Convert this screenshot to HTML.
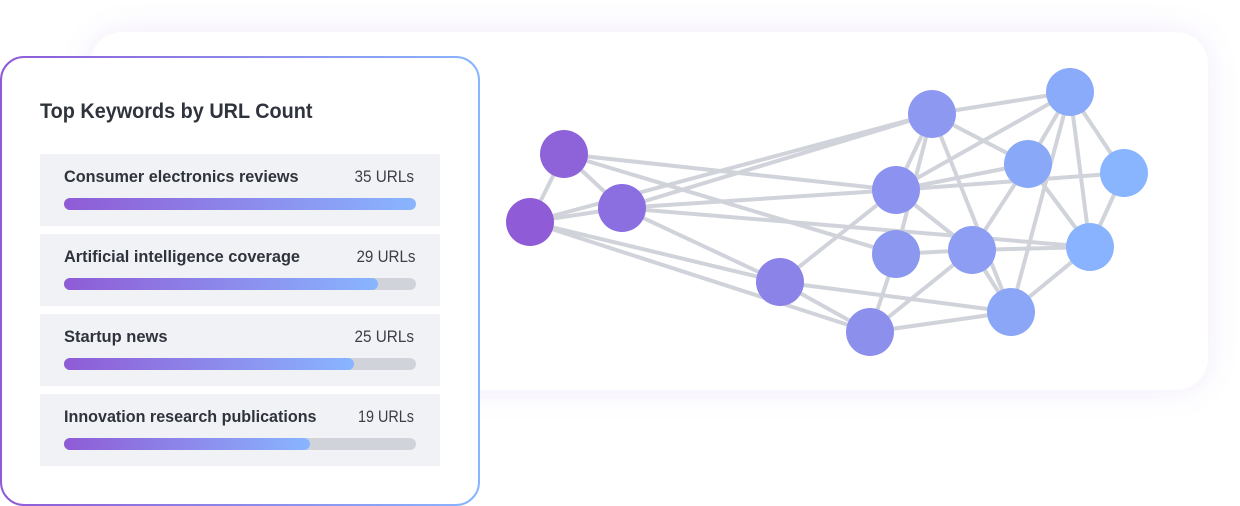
<!DOCTYPE html>
<html lang="en">
<head>
<meta charset="utf-8">
<title>Top Keywords by URL Count</title>
<style>
html,body{margin:0;padding:0;background:#fff;width:1240px;height:506px;overflow:hidden}
#back{position:absolute;left:90px;top:32px;width:1118px;height:358px;border-radius:32px;background:#fff;box-shadow:0 0 32px rgba(143,91,214,.12)}
svg{position:absolute;left:0;top:0}
text{font-family:"Liberation Sans",sans-serif}
.t{font-weight:700;font-size:16.5px;fill:#2f333c}
.u{font-weight:400;font-size:16.5px;fill:#3a3e47}
</style>
</head>
<body>
<div id="back"></div>
<svg width="1240" height="506" viewBox="0 0 1240 506" xmlns="http://www.w3.org/2000/svg">
<defs>
<linearGradient id="g"><stop offset="0" stop-color="#8f5bd6"/><stop offset="1" stop-color="#89b5ff"/></linearGradient>
</defs>
<g stroke="#d1d3db" stroke-width="4" fill="none">
<line x1="564" y1="154" x2="530" y2="222"/>
<line x1="564" y1="154" x2="622" y2="208"/>
<line x1="564" y1="154" x2="896" y2="190"/>
<line x1="564" y1="154" x2="896" y2="254"/>
<line x1="530" y1="222" x2="622" y2="208"/>
<line x1="530" y1="222" x2="932" y2="114"/>
<line x1="622" y1="208" x2="932" y2="114"/>
<line x1="530" y1="222" x2="780" y2="282"/>
<line x1="530" y1="222" x2="870" y2="332"/>
<line x1="622" y1="208" x2="896" y2="190"/>
<line x1="622" y1="208" x2="1090" y2="247"/>
<line x1="622" y1="208" x2="780" y2="282"/>
<line x1="780" y1="282" x2="896" y2="190"/>
<line x1="780" y1="282" x2="1011" y2="312"/>
<line x1="780" y1="282" x2="870" y2="332"/>
<line x1="870" y1="332" x2="896" y2="254"/>
<line x1="870" y1="332" x2="972" y2="250"/>
<line x1="870" y1="332" x2="1011" y2="312"/>
<line x1="932" y1="114" x2="896" y2="190"/>
<line x1="932" y1="114" x2="896" y2="254"/>
<line x1="932" y1="114" x2="1011" y2="312"/>
<line x1="932" y1="114" x2="1028" y2="164"/>
<line x1="932" y1="114" x2="1070" y2="92"/>
<line x1="896" y1="190" x2="1070" y2="92"/>
<line x1="896" y1="190" x2="1028" y2="164"/>
<line x1="896" y1="190" x2="1124" y2="173"/>
<line x1="896" y1="190" x2="972" y2="250"/>
<line x1="896" y1="254" x2="972" y2="250"/>
<line x1="972" y1="250" x2="1090" y2="247"/>
<line x1="972" y1="250" x2="1028" y2="164"/>
<line x1="972" y1="250" x2="1011" y2="312"/>
<line x1="1070" y1="92" x2="1028" y2="164"/>
<line x1="1070" y1="92" x2="1011" y2="312"/>
<line x1="1070" y1="92" x2="1090" y2="247"/>
<line x1="1070" y1="92" x2="1124" y2="173"/>
<line x1="1028" y1="164" x2="1090" y2="247"/>
<line x1="1124" y1="173" x2="1090" y2="247"/>
<line x1="1090" y1="247" x2="1011" y2="312"/>
</g>
<circle cx="564" cy="154" r="24" fill="#8e63da"/>
<circle cx="530" cy="222" r="24" fill="#8f5bd6"/>
<circle cx="622" cy="208" r="24" fill="#8b6edf"/>
<circle cx="780" cy="282" r="24" fill="#8b83e8"/>
<circle cx="870" cy="332" r="24" fill="#8c8fec"/>
<circle cx="896" cy="190" r="24" fill="#8c92ef"/>
<circle cx="896" cy="254" r="24" fill="#8c97f0"/>
<circle cx="932" cy="114" r="24" fill="#8d98f1"/>
<circle cx="972" cy="250" r="24" fill="#8c9df3"/>
<circle cx="1011" cy="312" r="24" fill="#8ba6f7"/>
<circle cx="1028" cy="164" r="24" fill="#8aa8f8"/>
<circle cx="1070" cy="92" r="24" fill="#8aabf9"/>
<circle cx="1090" cy="247" r="24" fill="#89b3fe"/>
<circle cx="1124" cy="173" r="24" fill="#89b5ff"/>

<rect x="1" y="57" width="478" height="448" rx="23" fill="#fff" stroke="url(#g)" stroke-width="2"/>
<text x="40" y="118" font-size="21" font-weight="700" fill="#2f333c" textLength="272.5" lengthAdjust="spacingAndGlyphs">Top Keywords by URL Count</text>

<rect x="40" y="154" width="400" height="72" fill="#f1f2f6"/>
<rect x="40" y="234" width="400" height="72" fill="#f1f2f6"/>
<rect x="40" y="314" width="400" height="72" fill="#f1f2f6"/>
<rect x="40" y="394" width="400" height="72" fill="#f1f2f6"/>

<text class="t" x="64" y="182" textLength="234.5" lengthAdjust="spacingAndGlyphs">Consumer electronics reviews</text>
<text class="u" x="354.5" y="182" textLength="59.5" lengthAdjust="spacingAndGlyphs">35 URLs</text>
<text class="t" x="64" y="262" textLength="236" lengthAdjust="spacingAndGlyphs">Artificial intelligence coverage</text>
<text class="u" x="356.5" y="262" textLength="59" lengthAdjust="spacingAndGlyphs">29 URLs</text>
<text class="t" x="64" y="342" textLength="103.5" lengthAdjust="spacingAndGlyphs">Startup news</text>
<text class="u" x="354.5" y="342" textLength="59.5" lengthAdjust="spacingAndGlyphs">25 URLs</text>
<text class="t" x="64" y="422" textLength="252.5" lengthAdjust="spacingAndGlyphs">Innovation research publications</text>
<text class="u" x="358" y="422" textLength="56" lengthAdjust="spacingAndGlyphs">19 URLs</text>

<rect x="64" y="278" width="352" height="12" rx="6" fill="#d1d3db"/>
<rect x="64" y="358" width="352" height="12" rx="6" fill="#d1d3db"/>
<rect x="64" y="438" width="352" height="12" rx="6" fill="#d1d3db"/>
<rect x="64" y="198" width="352" height="12" rx="6" fill="url(#g)"/>
<rect x="64" y="278" width="314" height="12" rx="6" fill="url(#g)"/>
<rect x="64" y="358" width="290" height="12" rx="6" fill="url(#g)"/>
<rect x="64" y="438" width="246" height="12" rx="6" fill="url(#g)"/>
</svg>
</body>
</html>
